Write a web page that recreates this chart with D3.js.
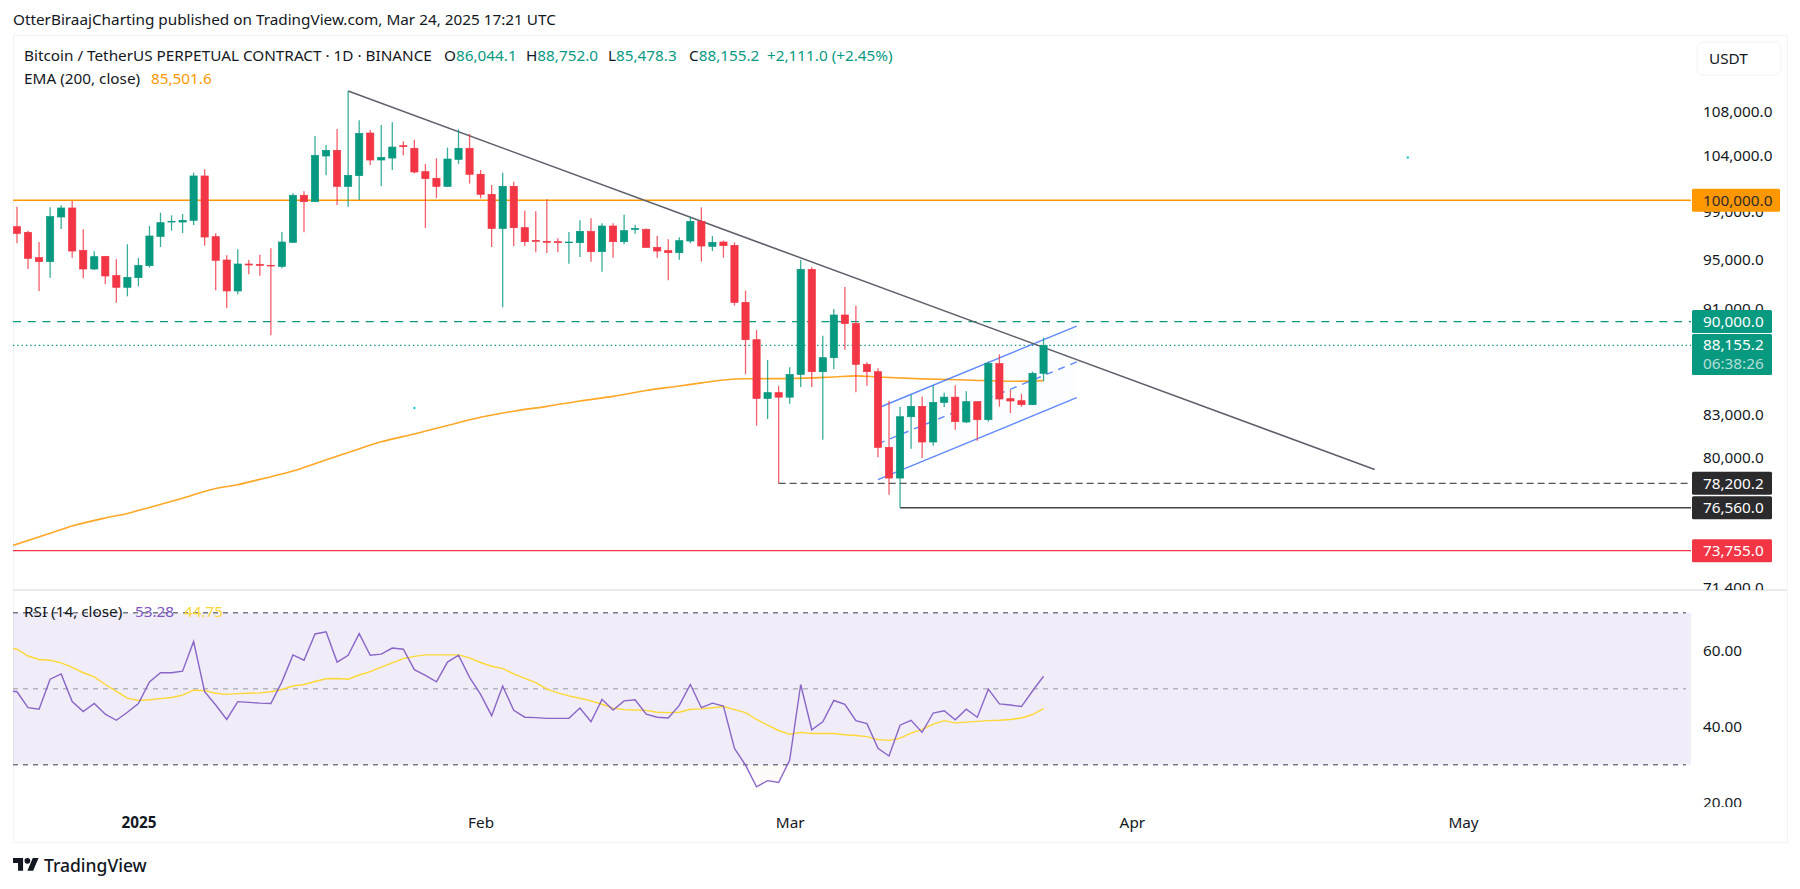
<!DOCTYPE html>
<html>
<head>
<meta charset="utf-8">
<title>BTCUSDT.P 1D</title>
<script src="https://cdn.jsdelivr.net/npm/d3@7/dist/d3.min.js"></script>
<style>
  html, body { margin: 0; padding: 0; background: #fff; }
  svg { display: block; }
  text { font-family: "Noto Sans", "Open Sans", sans-serif; fill: #131722; }
</style>
</head>
<body>
<svg id="chart" width="1800" height="889"></svg>
<script>
/* data
============================================= */
const START_DAY = Date.UTC(2024, 11, 21);

var opens = [97735,97255,95140,94810,98560,99335,95745,94205,95250,93665,
  92720,93500,94480,96915,98130,98130,98275,102135,96890,94945,
  92425,94615,94590,94505,94425,96415,100435,99880,103925,104435,
  101220,102165,106020,103563,103740,104860,104620,102520,101930,101220,
  103620,104620,102285,100520,97590,101220,97650,96580,96500,96470,
  96385,96385,97340,95635,97790,96470,97510,97510,95995,95720,
  95550,96525,98190,96080,96440,96160,91515,88595,84190,84610,
  84280,85965,94180,86165,87220,90515,89840,86720,86165,80685,
  78560,82860,83610,81060,83900,84280,82480,83950,82645,86770,
  84170,84020,83730,86044.1];
var highs = [99450,97395,96440,99390,99565,99970,97510,95665,95275,95000,
  96250,95110,97790,98930,98700,98815,102430,102725,97170,95330,
  95830,94945,95385,95915,97285,100610,100780,105745,104925,106390,
  109955,107195,106298,106760,107010,105255,105410,103210,103710,104680,
  106360,105930,102667,101340,102430,101630,99105,99050,100085,96750,
  97285,98275,98445,98020,98020,98760,97905,97590,96945,96665,
  96835,98590,99390,96945,96555,96415,92450,89343,87045,85100,
  86490,94945,94340,88900,90990,92745,91250,86870,86415,84020,
  83585,84440,84320,85175,84610,85150,84705,83950,86920,87475,
  84805,84510,86165,88752.0];
var lows = [96330,94205,92425,93500,97535,95140,93445,94124,92960,91490,
  91995,92800,94315,96025,97395,97200,97875,96135,92475,91065,
  92155,93770,93665,88930,94260,96385,97255,99850,102195,99590,
  99450,100026,103115,101220,102667,103985,102370,97620,100200,101190,
  103210,101460,100170,96025,91120,96105,96105,95580,95525,95580,
  94645,95195,94810,93990,95140,96250,97145,95970,95140,93285,
  94970,96330,94810,95690,95140,91270,85990,82220,82695,78200,
  83800,85025,85025,81220,86365,87830,84635,85125,79985,77430,
  76560,80590,79940,80800,83565,81930,82410,81150,82505,83585,
  83125,83585,83705,85478.3];
var closes = [97170,95085,94810,98590,99335,95690,94205,95220,93635,92720,
  93525,94505,96945,98075,98190,98275,102135,96860,94920,92425,
  94615,94535,94505,94450,96440,100435,99880,103985,104435,101220,
  102195,105990,103563,103800,104735,104770,102490,101900,101220,103650,
  104620,102285,100520,97590,101220,97650,96470,96500,96415,96385,
  96440,97340,95635,97790,96470,97395,97590,95995,95690,95550,
  96555,98190,96105,96415,96135,91515,88595,84190,84610,84280,
  85965,94180,86165,87220,90515,89840,86720,86165,80685,78560,
  82860,83610,81060,83900,84280,82505,83950,82645,86795,84145,
  84000,83730,86044,88155.2];

// EMA (200) is smooth, read every few bars
var emaBars = [-1,3,5,8,10,12,15,18,20,22,25,27,30,33,36,39,42,45,48,51,54,57,60,62,64,66,70,74,76,78,82,86,90,93];
var emaValues = [73950,74880,75350,75880,76180,76580,77200,77850,78110,78470,79040,79550,80320,81070,81630,82230,82820,83260,83610,84000,84340,84770,85100,85330,85550,85640,85650,85770,85850,85770,85630,85550,85450,85501.6];

// first value is the bar hidden just left of the pane
var rsiValues = [49.6,49.2,45.0,44.6,52.5,53.9,46.6,44.0,46.1,43.3,41.7,43.8,46.1,51.8,54.2,54.2,54.6,62.4,49.2,45.7,41.9,
  46.6,46.4,46.2,46.1,51.8,58.9,57.5,64.4,65.0,57.0,58.8,64.5,58.8,59.1,60.7,60.4,55.0,53.5,51.8,57.0,
  58.8,53.0,48.5,42.9,50.7,44.3,42.5,42.4,42.2,42.2,42.2,44.9,41.3,47.2,44.4,46.8,47.1,43.3,42.5,42.3,
  45.6,51.1,45.0,46.2,45.4,34.3,29.9,24.2,25.8,25.3,31.2,51.1,39.2,41.3,46.9,45.9,41.6,40.8,34.3,32.3,
  40.4,41.7,38.5,43.6,44.2,41.8,44.6,42.5,49.9,46.0,45.7,45.3,49.4,53.28];
var rsiMaValues = [60.9,60.4,58.6,57.7,57.5,56.8,55.6,54.2,53.1,51.1,49.3,47.5,46.9,47.1,47.4,47.7,48.3,49.6,49.5,48.8,48.5,
  48.7,48.8,48.9,49.2,49.8,50.7,51.1,51.9,52.6,52.7,52.5,53.6,54.5,55.7,56.8,57.9,58.5,58.9,58.9,58.9,
  58.9,58.1,56.9,55.9,55.3,53.9,52.7,51.6,49.9,48.9,48.1,47.5,46.8,45.9,44.9,44.5,44.4,44.3,43.8,43.7,
  43.8,44.6,44.7,45.0,45.3,44.5,43.7,41.9,40.4,39.0,38.0,38.5,38.2,38.2,38.2,37.9,37.7,37.4,36.6,36.4,
  37.0,38.3,39.3,40.7,41.6,41.0,41.2,41.4,41.6,41.7,41.9,42.3,43.2,44.75];

// 100,000 / 87,000 / 74,000 sit fully under the price boxes so they are left out
var priceTicks = [108000,104000,99000,95000,91000,83000,80000,77000,71400];
var rsiTicks = [60,40,20];
var rsiBands = [70,50,30];

var timeTickDates = [Date.UTC(2025,0,1), Date.UTC(2025,1,1), Date.UTC(2025,2,1), Date.UTC(2025,3,1), Date.UTC(2025,4,1)];
var timeTickLabels = ["2025","Feb","Mar","Apr","May"];

var levelValues = [100000,90000,78200.2,76560,73755];
var levelLabels = ["100,000.0","90,000.0","78,200.2","76,560.0","73,755.0"];

var trendBars = [30,123], trendPrices = [109955,79150];
var channelBars = [78,96];
var channelUpper = [83490,89650];
var channelMiddle = [80930,86900];
var channelLower = [78450,84240];

var dotBars = [36,126], dotPrices = [83490,103790];

/* layout
============================================= */
const GREEN = "#089981", RED = "#f23645", ORANGE = "#ff9800", DARK = "#2b2b2e";
const PANE_L = 13, PANE_R = 1691, OUTER_R = 1787;
const MAIN_T = 35, MAIN_B = 590, RSI_B = 807, OUTER_B = 842;
const FONT = 15.3;

var svg = d3.select("#chart");
var defs = svg.append("defs");

var dayOf = (bar) => START_DAY + bar * 86400000;

var x = d3.scaleUtc().domain([new Date(START_DAY), new Date(timeTickDates[4])]).range([17, 1463]);
var xBar = (bar) => x(new Date(dayOf(bar)));
var y = d3.scaleLog().domain([100000, 73755]).range([200.3, 550.7]);
var yRsi = d3.scaleLinear().domain([70, 30]).range([612.7, 764.7]);

addClip("clip-main", PANE_L, MAIN_T, PANE_R - PANE_L, MAIN_B - MAIN_T);
addClip("clip-rsi", PANE_L, MAIN_B, PANE_R - PANE_L, RSI_B - MAIN_B);
addClip("clip-axis-main", PANE_R, MAIN_T, OUTER_R - PANE_R, MAIN_B - MAIN_T);
addClip("clip-axis-rsi", PANE_R, MAIN_B, OUTER_R - PANE_R, RSI_B - MAIN_B);
addClip("clip-oversold", PANE_L, yRsi(30), PANE_R - PANE_L, RSI_B - yRsi(30));

function addClip(id, cx, cy, w, h) {
    defs.append("clipPath").attr("id", id)
        .append("rect").attr("x", cx).attr("y", cy).attr("width", w).attr("height", h);
}

//****************** init *****************************//
drawFrame();
drawMainPane();
drawRsiPane();
drawAxes();
drawPriceBoxes();
drawLegends();

/* Functions
============================================= */
function drawFrame() {
    svg.append("rect").attr("x", PANE_L + 0.5).attr("y", MAIN_T + 0.5)
        .attr("width", OUTER_R - PANE_L).attr("height", OUTER_B - MAIN_T)
        .attr("fill", "#fff").attr("stroke", "#f0f3fa");
    svg.append("line").attr("x1", PANE_L).attr("x2", OUTER_R)
        .attr("y1", MAIN_B).attr("y2", MAIN_B)
        .attr("stroke", "#e0e3eb").attr("stroke-width", 1.5);
}

function drawMainPane() {
    var g = svg.append("g").attr("clip-path", "url(#clip-main)");

    hLine(g, y(100000), PANE_L, PANE_R, ORANGE, 1.5, null);
    hLine(g, y(90000), PANE_L, PANE_R, GREEN, 1.2, "8 6.7");
    hLine(g, y(closes[93]), PANE_L, PANE_R, GREEN, 1.2, "1.4 2.9");
    hLine(g, y(78200.2), xBar(69), PANE_R, "#555", 1.4, "7 4");
    hLine(g, y(76560), xBar(80), PANE_R, "#444", 1.3, null);
    hLine(g, y(73755), PANE_L, PANE_R, RED, 1.2, null);

    // ema
    var emaLine = d3.line().curve(d3.curveMonotoneX).x((d, i) => xBar(emaBars[i])).y((d) => y(d));
    g.append("path").attr("d", emaLine(emaValues))
        .attr("fill", "none").attr("stroke", "#ffa726").attr("stroke-width", 1.6);

    // parallel channel
    var band = d3.area().x((d, i) => xBar(channelBars[i]))
        .y0((d) => y(d)).y1((d, i) => y(channelLower[i]));
    g.append("path").attr("d", band(channelUpper)).attr("fill", "#2962ff").attr("fill-opacity", 0.012);
    var chLine = d3.line().x((d, i) => xBar(channelBars[i])).y((d) => y(d));
    g.append("path").attr("d", chLine(channelUpper)).attr("stroke", "#2962ff").attr("stroke-opacity", 0.75).attr("stroke-width", 1.4);
    g.append("path").attr("d", chLine(channelLower)).attr("stroke", "#2962ff").attr("stroke-opacity", 0.75).attr("stroke-width", 1.4);
    g.append("path").attr("d", chLine(channelMiddle)).attr("stroke", "#2962ff").attr("stroke-opacity", 0.75).attr("stroke-width", 1.4).attr("stroke-dasharray", "7 6");

    // trend line
    var trend = d3.line().x((d, i) => xBar(trendBars[i])).y((d) => y(d));
    g.append("path").attr("d", trend(trendPrices)).attr("stroke", "#5d606b").attr("stroke-width", 1.5);

    // candles
    var candles = g.append("g").selectAll("g").data(closes).enter().append("g")
        .attr("fill", (d, i) => d >= opens[i] ? GREEN : RED)
        .attr("stroke", (d, i) => d >= opens[i] ? GREEN : RED);
    candles.append("line")
        .attr("x1", (d, i) => xBar(i)).attr("x2", (d, i) => xBar(i))
        .attr("y1", (d, i) => y(highs[i])).attr("y2", (d, i) => y(lows[i]))
        .attr("stroke-width", 1.3).attr("stroke-opacity", 0.8);
    candles.append("rect")
        .attr("x", (d, i) => xBar(i) - 3.6).attr("width", 7.2)
        .attr("y", (d, i) => y(Math.max(opens[i], d)))
        .attr("height", (d, i) => Math.max(0.6, Math.abs(y(opens[i]) - y(d))))
        .attr("stroke-width", 0.7);

    // stray dots left on the chart
    g.selectAll("circle").data(dotBars).enter().append("circle")
        .attr("cx", (d) => xBar(d)).attr("cy", (d, i) => y(dotPrices[i]))
        .attr("r", 1.2).attr("fill", "#26c6da");
}

function hLine(g, py, x1, x2, color, width, dash) {
    g.append("line").attr("x1", x1).attr("x2", x2).attr("y1", py).attr("y2", py)
        .attr("stroke", color).attr("stroke-width", width).attr("stroke-dasharray", dash);
}

function drawRsiPane() {
    var g = svg.append("g").attr("clip-path", "url(#clip-rsi)");

    g.append("rect").attr("x", PANE_L).attr("width", PANE_R - PANE_L)
        .attr("y", yRsi(70)).attr("height", yRsi(30) - yRsi(70))
        .attr("fill", "#7e57c2").attr("fill-opacity", 0.115);

    rsiBands.forEach(function (b) {
        g.append("line").attr("x1", PANE_L).attr("x2", 1686).attr("y1", yRsi(b)).attr("y2", yRsi(b))
            .attr("stroke", "#787b86").attr("stroke-opacity", b == 50 ? 0.5 : 1)
            .attr("stroke-width", 1.4).attr("stroke-dasharray", "5 5");
    });

    // pink fill where rsi dips under 30
    var grad = defs.append("linearGradient").attr("id", "oversold").attr("x1", 0).attr("x2", 0).attr("y1", 0).attr("y2", 1);
    grad.append("stop").attr("offset", 0).attr("stop-color", RED).attr("stop-opacity", 0.1);
    grad.append("stop").attr("offset", 1).attr("stop-color", RED).attr("stop-opacity", 0.02);
    var under = d3.area().x((d, i) => xBar(i - 1)).y0(yRsi(30)).y1((d) => yRsi(d));
    var oversoldClip = g.append("g").attr("clip-path", "url(#clip-oversold)");
    oversoldClip.append("path").attr("d", under(rsiValues)).attr("fill", "url(#oversold)");

    var line = d3.line().x((d, i) => xBar(i - 1)).y((d) => yRsi(d));
    g.append("path").attr("d", line(rsiMaValues)).attr("fill", "none").attr("stroke", "#fdd835").attr("stroke-width", 1.4);
    g.append("path").attr("d", line(rsiValues)).attr("fill", "none").attr("stroke", "#7e57c2").attr("stroke-opacity", 0.9).attr("stroke-width", 1.4);
}

function styleTicks(sel) {
    sel.select(".domain").remove();
    sel.selectAll("text").style("font-size", FONT + "px").style("fill", "#131722").style("font-family", '"Noto Sans"');
}

function drawAxes() {
    var priceAxis = d3.axisRight(y).tickValues(priceTicks).tickFormat(d3.format(",.1f")).tickSize(0).tickPadding(12);
    var a1 = svg.append("g").attr("clip-path", "url(#clip-axis-main)")
        .append("g").attr("transform", "translate(" + PANE_R + ",0)").call(priceAxis);
    styleTicks(a1);

    var rsiAxis = d3.axisRight(yRsi).tickValues(rsiTicks).tickFormat(d3.format(".2f")).tickSize(0).tickPadding(12);
    var a2 = svg.append("g").attr("clip-path", "url(#clip-axis-rsi)")
        .append("g").attr("transform", "translate(" + PANE_R + ",0)").call(rsiAxis);
    styleTicks(a2);

    var timeAxis = d3.axisBottom(x).tickValues(timeTickDates.map((d) => new Date(d)))
        .tickFormat((d, i) => timeTickLabels[i]).tickSize(0).tickPadding(10);
    var t = svg.append("g").attr("transform", "translate(0," + RSI_B + ")").call(timeAxis);
    styleTicks(t);
    t.selectAll("text").style("font-weight", (d, i) => i == 0 ? 700 : 400);

    // USDT button
    svg.append("rect").attr("x", 1697).attr("y", 42).attr("width", 84).attr("height", 33).attr("rx", 6)
        .attr("fill", "#fff").attr("stroke", "#f0f3fa");
    svg.append("text").attr("x", 1709).attr("y", 64).attr("font-size", FONT).text("USDT");
}

function drawPriceBoxes() {
    var colors = [ORANGE, GREEN, DARK, DARK, RED];
    var textColors = [DARK, "#fff", "#fff", "#fff", "#fff"];
    levelValues.forEach(function (v, i) {
        var w = i == 0 ? 88 : 80;
        svg.append("rect").attr("x", 1692).attr("y", y(v) - 11.5).attr("width", w).attr("height", 23)
            .attr("rx", 1.5).attr("fill", colors[i]);
        svg.append("text").attr("x", 1703).attr("y", y(v) + 5.2).attr("font-size", FONT)
            .style("fill", textColors[i]).text(levelLabels[i]);
    });

    // last price with countdown
    var py = y(closes[93]);
    svg.append("rect").attr("x", 1692).attr("y", py - 11.5).attr("width", 80).attr("height", 41)
        .attr("rx", 1.5).attr("fill", GREEN);
    svg.append("text").attr("x", 1703).attr("y", py + 5).attr("font-size", FONT).style("fill", "#fff")
        .text(d3.format(",.1f")(closes[93]));
    svg.append("text").attr("x", 1703).attr("y", py + 23.5).attr("font-size", FONT).style("fill", "#fff").style("fill-opacity", 0.7)
        .text("06:38:26");
}

function drawLegends() {
    svg.append("text").attr("x", 13).attr("y", 25).attr("font-size", FONT)
        .text("OtterBiraajCharting published on TradingView.com, Mar 24, 2025 17:21 UTC");

    svg.append("text").attr("x", 24).attr("y", 61).attr("font-size", FONT)
        .text("Bitcoin / TetherUS PERPETUAL CONTRACT · 1D · BINANCE");

    var ohlc = [["O", 86044.1, 444], ["H", 88752.0, 526], ["L", 85478.3, 608], ["C", 88155.2, 689]];
    ohlc.forEach(function (d) {
        var t = svg.append("text").attr("x", d[2]).attr("y", 61).attr("font-size", FONT);
        t.append("tspan").text(d[0]);
        t.append("tspan").style("fill", GREEN).text(d3.format(",.1f")(d[1]));
    });
    svg.append("text").attr("x", 767).attr("y", 61).attr("font-size", FONT).style("fill", GREEN).text("+2,111.0 (+2.45%)");

    svg.append("text").attr("x", 24).attr("y", 84).attr("font-size", FONT).text("EMA (200, close)");
    svg.append("text").attr("x", 151).attr("y", 84).attr("font-size", FONT).style("fill", ORANGE).text("85,501.6");

    svg.append("text").attr("x", 24).attr("y", 617).attr("font-size", FONT).text("RSI (14, close)");
    svg.append("text").attr("x", 135).attr("y", 617).attr("font-size", FONT).style("fill", "#7e57c2").text("53.28");
    svg.append("text").attr("x", 184).attr("y", 617).attr("font-size", FONT).style("fill", "#fdd835").text("44.75");

    // logo
    var logo = svg.append("g").attr("transform", "translate(13,855) scale(0.72)").attr("fill", "#131722");
    logo.append("path").attr("d", "M14 22H7V11H0V4h14v18zM28 22h-8l7.5-18h8L28 22z");
    logo.append("circle").attr("cx", 20).attr("cy", 8).attr("r", 4);
    svg.append("text").attr("x", 44).attr("y", 872).attr("font-size", 17.5).attr("font-weight", 500).text("TradingView");
}
</script>
</body>
</html>
